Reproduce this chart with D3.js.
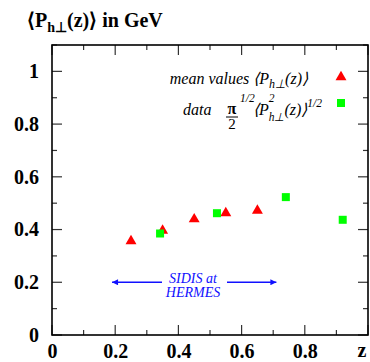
<!DOCTYPE html>
<html><head><meta charset="utf-8">
<script src="https://cdn.jsdelivr.net/npm/d3@7"></script>
<style>
html,body{margin:0;padding:0;background:#fff;}
svg{display:block;}
</style></head>
<body><svg id="c" width="370" height="362"></svg>
<script>
// data
const meanZ = [0.25, 0.35, 0.45, 0.55, 0.65];
const meanP = [0.36, 0.40, 0.443, 0.466, 0.476];
const dataZ = [0.342, 0.522, 0.74, 0.92];
const dataP = [0.385, 0.462, 0.523, 0.437];
const xTicks = [0, 0.2, 0.4, 0.6, 0.8];
const xTickLabels = ["0", "0.2", "0.4", "0.6", "0.8"];
const yTicks = [0, 0.2, 0.4, 0.6, 0.8, 1];
const yTickLabels = ["0", "0.2", "0.4", "0.6", "0.8", "1"];
const arrowRange = [0.19, 0.71];
const arrowLevel = 0.2;

const FONT = "Liberation Serif";
const svg = d3.select("#c");
const L = 52, R = 368, T = 45, B = 335;
const x = d3.scaleLinear().domain([0, 1]).range([L, R]);
const y = d3.scaleLinear().domain([0, 1.1]).range([B, T]);

const minorX = d3.range(0, 1.0001, 0.1);
const minorY = d3.range(0, 1.1001, 0.1);
const isMajor = v => Math.abs(v * 5 - Math.round(v * 5)) < 1e-6;
const tickCol = "#333";

function txt(sel) { return sel.style("font-family", FONT); }

minorX.forEach(v => {
  const len = isMajor(v) ? 10 : 5;
  const px = x(v);
  svg.append("line").attr("x1", px).attr("x2", px).attr("y1", B).attr("y2", B - len).attr("stroke", tickCol).attr("stroke-width", 1.2);
  svg.append("line").attr("x1", px).attr("x2", px).attr("y1", T).attr("y2", T + len).attr("stroke", tickCol).attr("stroke-width", 1.2);
});
minorY.forEach(v => {
  const len = isMajor(v) ? 10 : 5;
  const py = y(v);
  svg.append("line").attr("x1", L).attr("x2", L + len).attr("y1", py).attr("y2", py).attr("stroke", tickCol).attr("stroke-width", 1.2);
  svg.append("line").attr("x1", R).attr("x2", R - len).attr("y1", py).attr("y2", py).attr("stroke", tickCol).attr("stroke-width", 1.2);
});

// frame
svg.append("rect").attr("x", L).attr("y", T).attr("width", R - L).attr("height", B - T)
  .attr("fill", "none").attr("stroke", "#000").attr("stroke-width", 1.6);

// tick labels via axes
const gx = svg.append("g").attr("transform", `translate(0,${B})`)
  .call(d3.axisBottom(x).tickValues(xTicks).tickSize(0).tickPadding(8.5)
    .tickFormat((d, i) => xTickLabels[i]));
gx.select(".domain").remove();
gx.selectAll("text").style("font-family", FONT).style("font-weight", "bold").style("font-size", "20px").attr("fill", "#000");

const gy = svg.append("g").attr("transform", `translate(${L},0)`)
  .call(d3.axisLeft(y).tickValues(yTicks).tickSize(0).tickPadding(13)
    .tickFormat((d, i) => yTickLabels[i]));
gy.select(".domain").remove();
gy.selectAll("text").style("font-family", FONT).style("font-weight", "bold").style("font-size", "20px").attr("fill", "#000");

// z label
txt(svg.append("text")).attr("x", 362).attr("y", 357).attr("text-anchor", "middle")
  .style("font-weight", "bold").style("font-size", "20px").text("z");

// title
const title = txt(svg.append("text")).attr("x", 27).attr("y", 27).style("font-weight", "bold").style("font-size", "20px");
title.append("tspan").text("\u27E8P");
title.append("tspan").style("font-size", "14px").attr("dy", 5).text("h\u22A5");
title.append("tspan").attr("dy", -5).text("(z)\u27E9 in GeV");

// points
const tri = d3.symbol().type(d3.symbolTriangle).size(52);
svg.append("g").selectAll("path").data(meanZ).join("path")
  .attr("d", tri).attr("fill", "#ff0000")
  .attr("transform", (d, i) => `translate(${x(d)},${y(meanP[i]) + 1})`);
svg.append("g").selectAll("rect").data(dataZ).join("rect")
  .attr("x", d => x(d) - 4).attr("y", (d, i) => y(dataP[i]) - 4)
  .attr("width", 8).attr("height", 8).attr("fill", "#00ff00");

// legend
svg.append("path").attr("d", tri).attr("fill", "#ff0000").attr("transform", "translate(341,77)");
svg.append("rect").attr("x", 337).attr("y", 99).attr("width", 8).attr("height", 8).attr("fill", "#00ff00");

const l1 = txt(svg.append("text")).attr("x", 308).attr("y", 84).attr("text-anchor", "end")
  .style("font-style", "italic").style("font-size", "16px");
l1.append("tspan").text("mean values \u27E8P");
l1.append("tspan").style("font-size", "12px").attr("dy", 4).text("h\u22A5");
l1.append("tspan").attr("dy", -4).text("(z)\u27E9");

txt(svg.append("text")).attr("x", 183).attr("y", 115).style("font-style", "italic").style("font-size", "16px").text("data");
txt(svg.append("text")).attr("x", 232).attr("y", 114).attr("text-anchor", "middle").style("font-size", "16px").style("font-weight", "bold").text("\u03C0");
svg.append("line").attr("x1", 226).attr("x2", 238).attr("y1", 117).attr("y2", 117).attr("stroke", "#000").attr("stroke-width", 1);
txt(svg.append("text")).attr("x", 232).attr("y", 128.5).attr("text-anchor", "middle").style("font-size", "15px").text("2");
txt(svg.append("text")).attr("x", 240).attr("y", 102).style("font-style", "italic").style("font-size", "11.5px").text("1/2");
const l2 = txt(svg.append("text")).attr("x", 253).attr("y", 115).style("font-style", "italic").style("font-size", "16px");
l2.append("tspan").text("\u27E8P");
l2.append("tspan").style("font-size", "11.5px").attr("dy", -13).text("2");
l2.append("tspan").style("font-size", "11.5px").attr("dy", 19).attr("dx", -5.8).text("h\u22A5");
l2.append("tspan").attr("dy", -6).text("(z)\u27E9");
l2.append("tspan").style("font-size", "11.5px").attr("dy", -8).text("1/2");

// SIDIS arrow annotation
const blue = "#1010ff";
const ay = y(arrowLevel);
const defs = svg.append("defs");
defs.append("marker").attr("id", "ah").attr("viewBox", "0 0 10 10").attr("refX", 10).attr("refY", 5)
  .attr("markerWidth", 9).attr("markerHeight", 6).attr("markerUnits", "userSpaceOnUse").attr("orient", "auto")
  .append("path").attr("d", "M0,0L10,5L0,10z").attr("fill", blue);
svg.append("line").attr("x1", 162).attr("x2", x(arrowRange[0])).attr("y1", ay).attr("y2", ay)
  .attr("stroke", blue).attr("stroke-width", 1.5).attr("marker-end", "url(#ah)");
svg.append("line").attr("x1", 227).attr("x2", x(arrowRange[1])).attr("y1", ay).attr("y2", ay)
  .attr("stroke", blue).attr("stroke-width", 1.5).attr("marker-end", "url(#ah)");
txt(svg.append("text")).attr("x", 193).attr("y", 283).attr("text-anchor", "middle").style("font-style", "italic")
  .style("font-size", "14px").attr("fill", blue).text("SIDIS at");
txt(svg.append("text")).attr("x", 193).attr("y", 297).attr("text-anchor", "middle").style("font-style", "italic")
  .style("font-size", "14px").attr("fill", blue).text("HERMES");
</script></body></html>
